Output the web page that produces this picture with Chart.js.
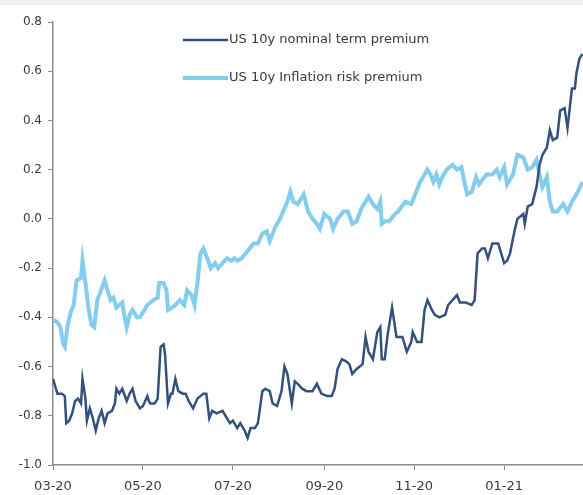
<!DOCTYPE html>
<html>
<head>
<meta charset="utf-8">
<script src="https://cdn.jsdelivr.net/npm/chart.js@4.4.1/dist/chart.umd.min.js"></script>
<style>
    html, body { margin: 0; padding: 0; background: #ffffff; }
    #wrap { width: 583px; height: 495px; position: relative; }
</style>
</head>
<body>
<div id="wrap"><canvas id="premiumChart" width="583" height="495"></canvas></div>
<script>
// days counted from 2020-03-01
const tickDays = [0, 61, 122, 184, 245, 306];
const tickLabels = ['03-20', '05-20', '07-20', '09-20', '11-20', '01-21'];

const nominalDays = [0, 3, 6, 8, 9, 11, 13, 15, 17, 19, 20, 22, 23, 25, 27, 29, 31, 33, 35, 37,
    40, 42, 43, 45, 47, 50, 52, 54, 56, 59, 61, 64, 65, 66, 69, 71, 73, 75, 76, 78,
    80, 81, 83, 85, 88, 90, 92, 95, 98, 100, 102, 104, 106, 108, 111, 115, 118, 120, 122, 125,
    127, 130, 132, 134, 137, 139, 142, 144, 147, 149, 152, 155, 157, 159, 162, 164, 166, 169, 172, 176,
    179, 182, 186, 189, 191, 193, 196, 199, 201, 203, 206, 210, 212, 214, 217, 220, 222, 223, 225, 227,
    230, 233, 237, 240, 243, 244, 247, 250, 252, 254, 257, 259, 262, 266, 268, 271, 274, 276, 280, 284,
    286, 288, 291, 293, 295, 298, 302, 304, 306, 308, 310, 313, 315, 319, 320, 322, 325, 328, 330, 332,
    335, 337, 339, 342, 344, 347, 349, 352, 354, 355, 357, 359];
const nominalValues = [-0.65, -0.71, -0.71, -0.72, -0.83, -0.82, -0.79, -0.74, -0.73, -0.75, -0.65, -0.73, -0.82, -0.77, -0.81, -0.86, -0.81, -0.78, -0.83, -0.79,
    -0.78, -0.75, -0.69, -0.71, -0.69, -0.74, -0.71, -0.69, -0.74, -0.77, -0.76, -0.72, -0.74, -0.75, -0.75, -0.73, -0.52, -0.51, -0.55, -0.75,
    -0.71, -0.71, -0.65, -0.70, -0.71, -0.71, -0.74, -0.77, -0.73, -0.72, -0.71, -0.71, -0.81, -0.78, -0.79, -0.78, -0.81, -0.83, -0.82, -0.85,
    -0.83, -0.86, -0.89, -0.85, -0.85, -0.83, -0.70, -0.69, -0.70, -0.75, -0.76, -0.70, -0.60, -0.63, -0.75, -0.66, -0.67, -0.69, -0.70, -0.70,
    -0.67, -0.71, -0.72, -0.72, -0.69, -0.61, -0.57, -0.58, -0.59, -0.63, -0.61, -0.59, -0.48, -0.54, -0.57, -0.46, -0.44, -0.57, -0.57, -0.47,
    -0.36, -0.48, -0.48, -0.54, -0.50, -0.46, -0.50, -0.50, -0.37, -0.33, -0.37, -0.39, -0.40, -0.39, -0.35, -0.33, -0.31, -0.34, -0.34, -0.35,
    -0.33, -0.14, -0.12, -0.12, -0.16, -0.10, -0.10, -0.14, -0.18, -0.17, -0.14, -0.05, 0.00, 0.02, -0.02, 0.05, 0.06, 0.13, 0.22, 0.26,
    0.29, 0.36, 0.32, 0.33, 0.44, 0.45, 0.37, 0.53, 0.53, 0.59, 0.65, 0.67];

const inflationDays = [0, 3, 5, 7, 8, 10, 12, 14, 16, 19, 20, 22, 24, 26, 28, 30, 32, 35, 37, 39,
    41, 43, 47, 48, 50, 52, 54, 57, 59, 62, 64, 68, 71, 72, 75, 77, 78, 81, 83, 86,
    89, 91, 94, 96, 98, 100, 102, 104, 107, 110, 112, 115, 118, 121, 123, 125, 128, 132, 136, 139,
    142, 145, 147, 151, 154, 159, 161, 163, 166, 170, 173, 176, 179, 181, 184, 188, 190, 193, 197, 200,
    203, 206, 209, 212, 214, 217, 220, 222, 223, 225, 228, 232, 234, 239, 243, 245, 249, 254, 256, 258,
    260, 262, 264, 267, 269, 271, 274, 277, 279, 281, 284, 287, 289, 294, 298, 301, 303, 306, 308, 312,
    315, 319, 322, 325, 328, 330, 332, 335, 337, 339, 342, 346, 349, 352, 356, 359];
const inflationValues = [-0.41, -0.42, -0.44, -0.51, -0.52, -0.43, -0.38, -0.35, -0.25, -0.24, -0.17, -0.26, -0.36, -0.43, -0.44, -0.33, -0.30, -0.25, -0.29, -0.33,
    -0.32, -0.36, -0.34, -0.38, -0.44, -0.39, -0.37, -0.40, -0.40, -0.37, -0.35, -0.33, -0.32, -0.26, -0.26, -0.29, -0.37, -0.36, -0.35, -0.33,
    -0.35, -0.29, -0.31, -0.35, -0.26, -0.14, -0.12, -0.15, -0.20, -0.18, -0.20, -0.18, -0.16, -0.17, -0.16, -0.17, -0.16, -0.13, -0.10, -0.10,
    -0.06, -0.05, -0.09, -0.03, 0.00, 0.07, 0.11, 0.07, 0.06, 0.10, 0.03, 0.00, -0.02, -0.04, 0.02, 0.00, -0.04, 0.00, 0.03, 0.03,
    -0.02, -0.01, 0.04, 0.07, 0.09, 0.06, 0.04, 0.07, -0.02, -0.01, -0.01, 0.02, 0.03, 0.07, 0.06, 0.09, 0.15, 0.20, 0.18, 0.15,
    0.18, 0.14, 0.17, 0.20, 0.21, 0.22, 0.20, 0.21, 0.15, 0.10, 0.11, 0.17, 0.14, 0.18, 0.18, 0.20, 0.17, 0.21, 0.14, 0.18,
    0.26, 0.25, 0.20, 0.21, 0.24, 0.18, 0.13, 0.17, 0.07, 0.03, 0.03, 0.06, 0.03, 0.07, 0.11, 0.15];

const seriesNames = ['US 10y nominal term premium', 'US 10y Inflation risk premium'];

const FONT = 'DejaVu Sans';
const TEXT = '#3a3a3a';
const AXIS = '#8a8a8a';

function toPoints(days, values) {
    return days.map((d, i) => ({ x: d, y: values[i] }));
}

// top grey strip + legend drawn inside the plot
const decorPlugin = {
    id: 'decor',
    beforeDraw(chart) {
        const ctx = chart.ctx;
        ctx.save();
        ctx.fillStyle = '#eef3ef';
        ctx.fillRect(0, 0, chart.width, 5);
        ctx.restore();
    },
    afterDraw(chart) {
        const ctx = chart.ctx;
        const rows = [40, 78];
        ctx.save();
        chart.data.datasets.forEach((ds, i) => {
            const y = rows[i];
            ctx.strokeStyle = ds.borderColor;
            ctx.lineWidth = ds.borderWidth;
            ctx.beginPath();
            ctx.moveTo(183, y);
            ctx.lineTo(228, y);
            ctx.stroke();
            ctx.fillStyle = TEXT;
            ctx.font = '13px "' + FONT + '"';
            ctx.textBaseline = 'middle';
            ctx.fillText(ds.label, 229, y);
        });
        ctx.restore();
    }
};

const ctx = document.getElementById('premiumChart').getContext('2d');
const chart = new Chart(ctx, {
    type: 'line',
    data: {
        datasets: [{
            label: seriesNames[0],
            data: toPoints(nominalDays, nominalValues),
            borderColor: '#34507f',
            borderWidth: 2.5,
            pointRadius: 0,
            tension: 0
        }, {
            label: seriesNames[1],
            data: toPoints(inflationDays, inflationValues),
            borderColor: '#84cdee',
            borderWidth: 4,
            pointRadius: 0,
            tension: 0
        }]
    },
    options: {
        responsive: false,
        animation: false,
        layout: { padding: { top: 22, right: 0, left: 0, bottom: 0 } },
        plugins: {
            legend: { display: false },
            tooltip: { enabled: false }
        },
        scales: {
            x: {
                type: 'linear',
                min: 0,
                max: 359.5,
                afterBuildTicks: axis => { axis.ticks = tickDays.map(v => ({ value: v })); },
                afterFit: axis => { axis.height = 30; },
                ticks: {
                    autoSkip: false,
                    maxRotation: 0,
                    padding: 9,
                    color: TEXT,
                    font: { family: FONT, size: 13 },
                    callback: v => tickLabels[tickDays.indexOf(v)]
                },
                grid: { drawOnChartArea: false, drawTicks: true, tickLength: 5, color: AXIS },
                border: { color: AXIS, width: 1.5 }
            },
            y: {
                min: -1,
                max: 0.8,
                afterFit: axis => { axis.width = 53; },
                ticks: {
                    stepSize: 0.2,
                    padding: 6,
                    color: TEXT,
                    font: { family: FONT, size: 12 },
                    callback: v => (Math.round(v * 10) / 10).toFixed(1)
                },
                grid: { drawOnChartArea: false, drawTicks: true, tickLength: 5, color: AXIS },
                border: { color: AXIS, width: 1.5 }
            }
        }
    },
    plugins: [decorPlugin]
});
</script>
</body>
</html>
